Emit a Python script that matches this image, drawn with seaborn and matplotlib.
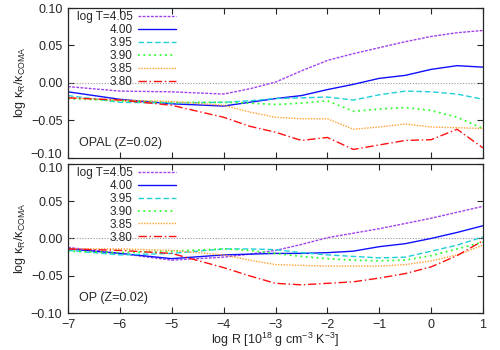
import numpy as np
import pandas as pd
import matplotlib
matplotlib.use("Agg")
import matplotlib.pyplot as plt
import matplotlib.transforms as mtransforms
import seaborn as sns

sns.set_style("ticks")
plt.rcParams['font.family'] = ['Liberation Sans', 'DejaVu Sans']
plt.rcParams['mathtext.fontset'] = 'custom'
plt.rcParams['mathtext.rm'] = 'Liberation Sans'
plt.rcParams['mathtext.it'] = 'Liberation Sans'

# Data
temps = ['log T=4.05', '4.00', '3.95', '3.90', '3.85', '3.80']
logR = [-7, -6, -5, -4, -3.5, -3, -2.5, -2, -1.5, -1, -0.5, 0, 0.5, 1]

opal = {
    'log T=4.05': [-0.005, -0.011, -0.012, -0.015, -0.008, 0.001, 0.016, 0.030, 0.039, 0.047, 0.055, 0.062, 0.067, 0.070],
    '4.00': [-0.012, -0.022, -0.028, -0.031, -0.026, -0.021, -0.017, -0.009, -0.002, 0.006, 0.010, 0.018, 0.023, 0.021],
    '3.95': [-0.017, -0.026, -0.027, -0.026, -0.024, -0.021, -0.020, -0.019, -0.023, -0.016, -0.011, -0.012, -0.015, -0.022],
    '3.90': [-0.021, -0.024, -0.026, -0.026, -0.027, -0.029, -0.027, -0.024, -0.038, -0.035, -0.033, -0.037, -0.046, -0.061],
    '3.85': [-0.020, -0.023, -0.025, -0.030, -0.039, -0.046, -0.048, -0.048, -0.062, -0.059, -0.055, -0.059, -0.060, -0.061],
    '3.80': [-0.020, -0.023, -0.030, -0.046, -0.058, -0.066, -0.077, -0.073, -0.089, -0.083, -0.077, -0.076, -0.062, -0.087],
}

op = {
    'log T=4.05': [-0.012, -0.020, -0.029, -0.025, -0.021, -0.016, -0.008, 0.001, 0.007, 0.013, 0.020, 0.027, 0.035, 0.043],
    '4.00': [-0.014, -0.020, -0.027, -0.022, -0.021, -0.020, -0.020, -0.019, -0.017, -0.011, -0.007, 0.000, 0.008, 0.017],
    '3.95': [-0.016, -0.022, -0.020, -0.014, -0.014, -0.015, -0.019, -0.022, -0.024, -0.026, -0.025, -0.017, -0.009, 0.002],
    '3.90': [-0.017, -0.019, -0.017, -0.014, -0.016, -0.020, -0.024, -0.027, -0.029, -0.030, -0.029, -0.023, -0.014, -0.005],
    '3.85': [-0.014, -0.014, -0.016, -0.022, -0.029, -0.035, -0.036, -0.037, -0.037, -0.037, -0.035, -0.030, -0.022, -0.009],
    '3.80': [-0.014, -0.016, -0.020, -0.039, -0.050, -0.060, -0.062, -0.060, -0.058, -0.053, -0.047, -0.038, -0.023, -0.003],
}

colors = ['#a040f0', '#1010ff', '#20d0d8', '#30ff30', '#ffa030', '#ff1010']
dashes = [(2, 1), '', (4, 2), (1, 2), (1, 1), (6, 2, 1, 2)]
widths = [1.0, 1.0, 1.0, 1.3, 1.0, 1.0]


def to_long(d):
    rows = []
    for t in temps:
        for x, y in zip(logR, d[t]):
            rows.append({'logR': x, 'val': y, 'T': t})
    return pd.DataFrame(rows)


fig, axes = plt.subplots(2, 1, figsize=(5, 3.5), dpi=100, sharex=True)
fig.subplots_adjust(left=0.136, right=0.966, top=0.977, bottom=0.105, hspace=0.04)

for ax, d, name in zip(axes, [opal, op], ['OPAL (Z=0.02)', 'OP (Z=0.02)']):
    df = to_long(d)
    ax.axhline(0, color='#999999', lw=0.8, ls=(0, (1, 1.5)), zorder=1)
    sns.lineplot(data=df, x='logR', y='val', hue='T', style='T',
                 palette=colors, dashes=dashes, size='T', sizes=widths,
                 hue_order=temps, style_order=temps, size_order=temps,
                 ax=ax, legend=True, zorder=2)
    h, l = ax.get_legend_handles_labels()
    ax.legend(h, l, loc='upper left', bbox_to_anchor=(0.013, 1.0),
              frameon=False, markerfirst=False,
              fontsize=8.5, handlelength=3.2, labelspacing=0.08,
              handletextpad=0.5, borderaxespad=0.15, borderpad=0.12)
    ax.text(0.027, 0.06, name, transform=ax.transAxes, fontsize=9,
            ha='left', va='bottom')
    ax.set_xlim(-7, 1)
    ax.set_ylim(-0.1, 0.1)
    ax.set_yticks([-0.10, -0.05, 0.00, 0.05, 0.10])
    ax.set_yticklabels(['\u22120.10', '\u22120.05', '0.00', '0.05', '0.10'])
    ax.set_xticks(range(-7, 2))
    ax.tick_params(direction='in', top=True, right=True, labelsize=9,
                   length=4, width=0.8, pad=4)
    ax.set_ylabel(r'log $\mathregular{\kappa_R/\kappa_{COMA}}$', fontsize=9,
                  labelpad=2)
    ax.set_xlabel('')
    for s in ax.spines.values():
        s.set_linewidth(0.9)

# nudge the touching labels apart at the panel join
up = mtransforms.ScaledTranslation(0, 3 / 72, fig.dpi_scale_trans)
down = mtransforms.ScaledTranslation(0, -2.5 / 72, fig.dpi_scale_trans)
lab_top = axes[0].get_yticklabels()[0]
lab_top.set_transform(lab_top.get_transform() + up)
lab_bot = axes[1].get_yticklabels()[-1]
lab_bot.set_transform(lab_bot.get_transform() + down)

axes[1].set_xticklabels(['\u22127', '\u22126', '\u22125', '\u22124', '\u22123',
                         '\u22122', '\u22121', '0', '1'])
axes[1].set_xlabel(r'log R [10$^{18}$ g cm$^{-3}$ K$^{-3}$]', fontsize=9,
                   labelpad=0)

fig.savefig('out.png', dpi=100)
